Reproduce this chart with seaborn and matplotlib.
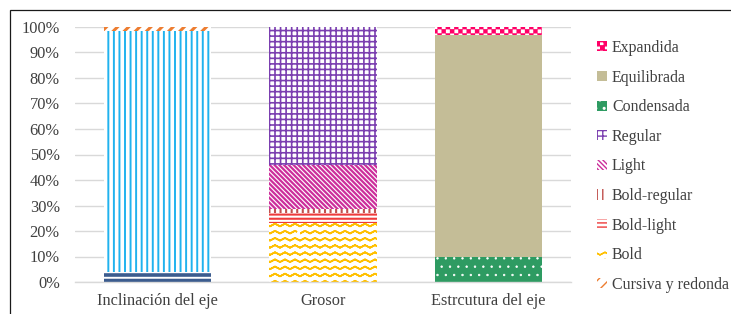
import warnings
warnings.filterwarnings("ignore")
import numpy as np
import pandas as pd
import matplotlib
matplotlib.use("Agg")
import matplotlib.pyplot as plt
import matplotlib.hatch as mhatch
from matplotlib.path import Path
from matplotlib.patches import Rectangle, Patch
from matplotlib.ticker import PercentFormatter
import seaborn as sns

# ---------------- data ----------------
categories = ["Inclinación del eje", "Grosor", "Estrcutura del eje"]
series_names = ["Cursiva", "Redonda", "Cursiva y redonda", "Bold", "Bold-light",
                "Bold-regular", "Light", "Regular", "Condensada", "Equilibrada", "Expandida"]
cursiva = [4.0, 0, 0]
redonda = [94.5, 0, 0]
cursiva_y_redonda = [1.5, 0, 0]
bold = [0, 23.0, 0]
bold_light = [0, 4.0, 0]
bold_regular = [0, 1.5, 0]
light = [0, 17.5, 0]
regular = [0, 54.0, 0]
condensada = [0, 0, 10.0]
equilibrada = [0, 0, 87.0]
expandida = [0, 0, 3.0]
legend_names = ["Expandida", "Equilibrada", "Condensada", "Regular", "Light",
                "Bold-regular", "Bold-light", "Bold", "Cursiva y redonda"]
yticks = [0, 10, 20, 30, 40, 50, 60, 70, 80, 90, 100]

values = [cursiva, redonda, cursiva_y_redonda, bold, bold_light, bold_regular,
          light, regular, condensada, equilibrada, expandida]


# ---------------- custom hatches (zigzag 'z', checkerboard 'k') ----------------
class ZigzagHatch(mhatch.HatchPatternBase):
    periods = 10
    amp = 0.013

    def __init__(self, hatch, density):
        self.num_rows = int(round(hatch.count('z') * density * 1.15))
        n = 2 * self.periods + 1
        self.pts = n
        self.num_vertices = self.num_rows * (2 * n - 1)

    def set_vertices_and_codes(self, vertices, codes):
        n = self.pts
        xs = np.linspace(0, 1, n)
        offs = np.where(np.arange(n) % 2 == 0, -self.amp, self.amp)
        per = 2 * n - 1
        for r in range(self.num_rows):
            y0 = (r + 0.5) / self.num_rows
            ys = y0 + offs
            fx = np.concatenate([xs, xs[-2::-1]])
            fy = np.concatenate([ys, ys[-2::-1]])
            vertices[r * per:(r + 1) * per, 0] = fx
            vertices[r * per:(r + 1) * per, 1] = fy
            codes[r * per] = Path.MOVETO
            codes[r * per + 1:(r + 1) * per] = Path.LINETO


class CheckerHatch(mhatch.HatchPatternBase):
    def __init__(self, hatch, density):
        self.n = int(hatch.count('k') * density)
        if self.n % 2:
            self.n += 1
        self.cells = [(i, j) for i in range(self.n) for j in range(self.n) if (i + j) % 2 == 0] if self.n else []
        self.num_vertices = 5 * len(self.cells)

    def set_vertices_and_codes(self, vertices, codes):
        s = 1.0 / self.n
        for k, (i, j) in enumerate(self.cells):
            x0, y0 = i * s, j * s
            vertices[5 * k:5 * k + 5] = [[x0, y0], [x0 + s, y0], [x0 + s, y0 + s], [x0, y0 + s], [x0, y0]]
            codes[5 * k:5 * k + 5] = [Path.MOVETO, Path.LINETO, Path.LINETO, Path.LINETO, Path.CLOSEPOLY]


mhatch._hatch_types.append(ZigzagHatch)
mhatch._hatch_types.append(CheckerHatch)

# ---------------- styles ----------------
styles = {
    "Cursiva":           dict(face="white",   hcol="#3C5C8E", hatch="---",     hlw=2.6),
    "Redonda":           dict(face="white",   hcol="#20B2EE", hatch="|||",     hlw=1.4),
    "Cursiva y redonda": dict(face="white",   hcol="#ED7D31", hatch="///",     hlw=2.2),
    "Bold":              dict(face="white",   hcol="#FFC000", hatch="zz",      hlw=1.2),
    "Bold-light":        dict(face="white",   hcol="#EE3B3B", hatch="----",    hlw=1.5),
    "Bold-regular":      dict(face="white",   hcol="#C0504D", hatch="|||",     hlw=1.5),
    "Light":             dict(face="white",   hcol="#CC2E9B", hatch="\\" * 7,  hlw=1.6),
    "Regular":           dict(face="white",   hcol="#7B3FB0", hatch="+++",     hlw=1.2),
    "Condensada":        dict(face="#2E9B62", hcol="white",   hatch="..",      hlw=0.5),
    "Equilibrada":       dict(face="#C4BD97", hcol="#C4BD97", hatch=None,      hlw=1.0),
    "Expandida":         dict(face="white",   hcol="#FF0066", hatch="kkkk",    hlw=0.2),
}

sns.set_theme(style="white")
plt.rcParams["font.family"] = ["Liberation Serif", "DejaVu Serif"]
text_col = "#404040"

fig = plt.figure(figsize=(7.31, 3.14), dpi=100)
ax = fig.add_axes([75 / 731, 32 / 314, 496 / 731, 255 / 314])

df = pd.DataFrame({"categoria": categories})
bottom = np.zeros(len(categories))
for name, vals in zip(series_names, values):
    st = styles[name]
    df["valor"] = vals
    with plt.rc_context({"hatch.linewidth": st["hlw"]}):
        sns.barplot(data=df, x="categoria", y="valor", order=categories, errorbar=None,
                    width=0.65, ax=ax, color=st["face"], saturation=1,
                    bottom=bottom.copy(), facecolor=st["face"],
                    edgecolor=st["hcol"], hatch=st["hatch"], linewidth=0)
    for p in ax.containers[-1]:
        if hasattr(p, "set_hatch_linewidth"):
            p.set_hatch_linewidth(st["hlw"])
    bottom = bottom + np.array(vals)

ax.set_ylim(0, 100)
ax.set_xlim(-0.5, 2.5)
ax.set_yticks(yticks)
ax.yaxis.set_major_formatter(PercentFormatter(decimals=0))
ax.grid(axis="y", color="#D9D9D9", linewidth=1.0)
ax.set_axisbelow(True)
for s in ["top", "right", "left"]:
    ax.spines[s].set_visible(False)
ax.spines["bottom"].set_color("#D9D9D9")
ax.spines["bottom"].set_linewidth(1.0)
ax.tick_params(axis="y", length=0, pad=11, labelsize=11.8, labelcolor=text_col)
ax.tick_params(axis="x", length=0, pad=8, labelsize=11.8, labelcolor=text_col)
ax.set_xlabel("")
ax.set_ylabel("")

# legend
handles = []
for name in legend_names:
    st = styles[name]
    h = Patch(facecolor=st["face"], edgecolor=st["hcol"], hatch=st["hatch"], linewidth=0, label=name)
    if hasattr(h, "set_hatch_linewidth"):
        h.set_hatch_linewidth(max(st["hlw"], 0.8) if name != "Expandida" else 0.2)
    handles.append(h)
leg = fig.legend(handles=handles, loc="upper left", bbox_to_anchor=(597 / 731, 1 - 40 / 314),
                 frameon=False, fontsize=11.4, handlelength=0.6, handleheight=0.6,
                 handletextpad=0.35, labelspacing=0.86, borderpad=0, borderaxespad=0)
for t in leg.get_texts():
    t.set_color(text_col)

# chart-area border (extends past the crop on the right and bottom)
fig.patches.append(Rectangle((10 / 731, -0.2), 1.2, 1.2 - 10 / 314, transform=fig.transFigure,
                             fill=False, edgecolor="#1a1a1a", linewidth=0.9))

fig.savefig("out.png", dpi=100)
